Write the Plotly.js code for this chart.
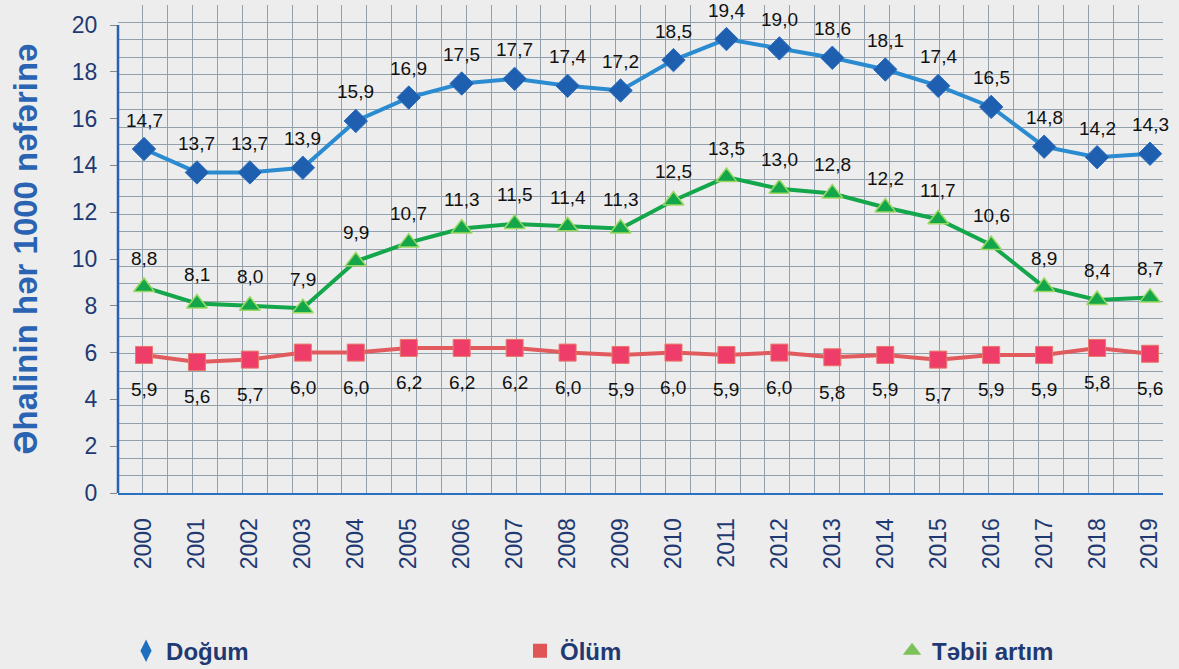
<!DOCTYPE html>
<html>
<head>
<meta charset="utf-8">
<script src="https://cdn.plot.ly/plotly-3.0.1.min.js"></script>
<style>
html,body{margin:0;padding:0;background:#ededed;}
#chart{width:1179px;height:669px;}
</style>
</head>
<body>
<div id="chart"></div>
<script>
// ---- data ----
const years = [2000,2001,2002,2003,2004,2005,2006,2007,2008,2009,2010,2011,2012,2013,2014,2015,2016,2017,2018,2019];
const yearLabels = years.map(String);
const dogum = [14.7,13.7,13.7,13.9,15.9,16.9,17.5,17.7,17.4,17.2,18.5,19.4,19.0,18.6,18.1,17.4,16.5,14.8,14.35,14.5];
const dogumLabels = ["14,7","13,7","13,7","13,9","15,9","16,9","17,5","17,7","17,4","17,2","18,5","19,4","19,0","18,6","18,1","17,4","16,5","14,8","14,2","14,3"];
const olum = [5.9,5.6,5.7,6.0,6.0,6.2,6.2,6.2,6.0,5.9,6.0,5.9,6.0,5.8,5.9,5.7,5.9,5.9,6.2,5.95];
const olumLabels = ["5,9","5,6","5,7","6,0","6,0","6,2","6,2","6,2","6,0","5,9","6,0","5,9","6,0","5,8","5,9","5,7","5,9","5,9","5,8","5,6"];
const tebii = [8.8,8.1,8.0,7.9,9.9,10.7,11.3,11.5,11.4,11.3,12.5,13.5,13.0,12.8,12.2,11.7,10.6,8.8,8.25,8.35];
const tebiiLabels = ["8,8","8,1","8,0","7,9","9,9","10,7","11,3","11,5","11,4","11,3","12,5","13,5","13,0","12,8","12,2","11,7","10,6","8,9","8,4","8,7"];
const seriesNames = ["Doğum","Ölüm","Təbii artım"];
const yTitle = "Əhalinin hər 1000 nəfərinə";

// ---- styling ----
const FONT = "Arial, 'Liberation Sans', sans-serif";
const navy = "#1f3a72";
const gridCol = "#93a1ad";

const traces = [
  {x: years, y: dogum, mode: "lines+markers", name: seriesNames[0], showlegend: false,
   line: {color: "#2b8bd0", width: 4},
   marker: {symbol: "diamond", size: 18, color: "#1e5fb0", line: {color: "#2a6cc0", width: 1}}},
  {x: years, y: olum, mode: "lines+markers", name: seriesNames[1], showlegend: false,
   line: {color: "#e15b5e", width: 4},
   marker: {symbol: "square", size: 17, color: "#ee3d69", line: {color: "#e8786a", width: 1}}},
  {x: years, y: tebii, mode: "lines+markers", name: seriesNames[2], showlegend: false,
   line: {color: "#13a64b", width: 4},
   marker: {symbol: "triangle-up", size: 18, color: "#13a64b", line: {color: "#9cd862", width: 1.5}}},
  // legend-only entries (marker only, as in the reference legend)
  {x: [null], y: [null], mode: "markers", name: seriesNames[0], legend: "legend",
   marker: {symbol: "diamond-tall", size: 17, color: "#1f6fc0"}},
  {x: [null], y: [null], mode: "markers", name: seriesNames[1], legend: "legend2",
   marker: {symbol: "square", size: 14, color: "#e05555"}},
  {x: [null], y: [null], mode: "markers", name: seriesNames[2], legend: "legend3",
   marker: {symbol: "triangle-up", size: 17, color: "#7cc15a"}}
];

const annotations = [];
function addLabels(vals, labels, shift) {
  vals.forEach((v, i) => annotations.push({
    x: years[i], y: v, xref: "x", yref: "y", text: labels[i], showarrow: false,
    yshift: shift, font: {family: FONT, size: 19, color: "#111"}
  }));
}
addLabels(dogum, dogumLabels, 29);
addLabels(olum, olumLabels, -35);
addLabels(tebii, tebiiLabels, 29);

const legendBase = {
  orientation: "h", yanchor: "middle", y: -0.324, xanchor: "left",
  bgcolor: "rgba(0,0,0,0)", font: {family: FONT, size: 24, color: navy, weight: "bold"}
};

const layout = {
  width: 1179, height: 669,
  margin: {l: 118, r: 16, t: 5, b: 176, autoexpand: false},
  paper_bgcolor: "#ededed", plot_bgcolor: "#ededed",
  font: {family: FONT},
  xaxis: {
    range: [1999.509, 2019.245], tickmode: "array", tickvals: years, ticktext: yearLabels,
    tickangle: -90, ticks: "", ticklabelstandoff: 14, automargin: false,
    tickfont: {family: FONT, size: 23, color: navy},
    showgrid: false, zeroline: false,
    showline: true, linecolor: "#2a6fc0", linewidth: 2,
    minor: {tick0: 1999.509, dtick: 0.46991, showgrid: true, gridcolor: gridCol, gridwidth: 1, ticks: ""}
  },
  xaxis2: {
    overlaying: "x", anchor: "y", side: "bottom", range: [0, 20], dtick: 1, tick0: 0,
    ticks: "outside", ticklen: 5, tickcolor: "#888", tickwidth: 1, automargin: false,
    showticklabels: false, showgrid: false, zeroline: false, showline: false
  },
  yaxis: {
    range: [0, 20.855], tickmode: "array", tickvals: [0,2,4,6,8,10,12,14,16,18,20],
    ticks: "outside", ticklen: 7, tickcolor: "#888", ticklabelstandoff: 8, automargin: false,
    tickfont: {family: FONT, size: 23, color: navy},
    showgrid: false, zeroline: false, showline: false,
    minor: {tick0: 0, dtick: 0.74482, showgrid: true, gridcolor: gridCol, gridwidth: 1, ticks: ""},
    title: {text: yTitle, standoff: 24, font: {family: FONT, size: 33, color: "#2b63b3", weight: "bold"}}
  },
  shapes: [
    {type: "line", xref: "paper", yref: "y", x0: 0, x1: 0, y0: 0, y1: 20,
     line: {color: "#2a5fb5", width: 2.5}}
  ],
  legend: Object.assign({}, legendBase, {x: 0.0077}),
  legend2: Object.assign({}, legendBase, {x: 0.3847}),
  legend3: Object.assign({}, legendBase, {x: 0.7407}),
  annotations: annotations
};

Plotly.newPlot("chart", traces, layout, {displayModeBar: false, staticPlot: true});
</script>
</body>
</html>
